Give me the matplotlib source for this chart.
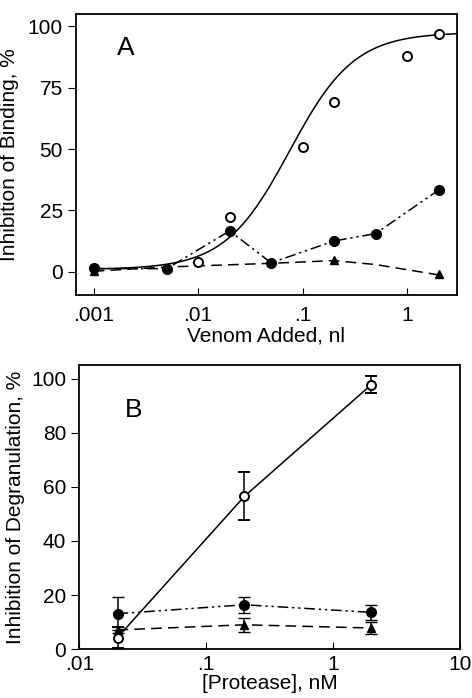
import matplotlib
matplotlib.use("Agg")
import matplotlib.pyplot as plt
import numpy as np

plt.rcParams['font.family'] = ['Liberation Sans', 'DejaVu Sans']

# Panel A: venom binding
a_open_x = [0.01, 0.02, 0.1, 0.2, 1.0, 2.0]
a_open_y = [4.1, 22.4, 50.8, 69.1, 87.8, 96.7]
a_fill_x = [0.001, 0.005, 0.02, 0.05, 0.2, 0.5, 2.0]
a_fill_y = [1.4, 1.3, 16.7, 3.7, 12.6, 15.6, 33.3]
a_tri_x = [0.001, 0.005, 0.05, 0.2, 0.5, 2.0]
a_tri_y = [0.3, 2.0, 3.5, 4.6, 3.0, -1.2]
a_tri_shown = [0.001, 0.2, 2.0]
a_tri_shown_y = [0.3, 5.0, -1.0]
# fitted curve parameters for open circles
fit_bottom, fit_top, fit_ec50, fit_hill = 1.0, 97.5, 0.075, 1.4

# Panel B: degranulation
b_x = [0.02, 0.2, 2.0]
b_open_y = [4.3, 56.5, 97.8]
b_open_err = [4.0, 8.8, 3.0]
b_fill_y = [13.1, 16.4, 13.6]
b_fill_err = [6.0, 2.9, 2.7]
b_tri_y = [7.1, 9.0, 7.8]
b_tri_err = [1.2, 2.5, 2.2]

dashdot = (0, (7, 2.5, 1.5, 2.5, 1.5, 2.5))
dashed = (0, (7, 4))
lw = 1.1
fs = 15

fig = plt.figure(figsize=(4.72, 6.98), dpi=100)
axA = fig.add_axes([0.161, 0.577, 0.807, 0.403])
axB = fig.add_axes([0.168, 0.070, 0.807, 0.407])

# --- A ---
xs = np.logspace(-3, np.log10(3.0), 300)
fit_y = fit_bottom + (fit_top - fit_bottom) / (1 + (fit_ec50 / xs) ** fit_hill)
axA.plot(xs, fit_y, color='black', lw=lw)
axA.plot(a_fill_x, a_fill_y, color='black', lw=lw, linestyle=dashdot)
axA.plot(a_tri_x, a_tri_y, color='black', lw=lw, linestyle=dashed)
axA.plot(a_tri_shown, a_tri_shown_y, 'k^', ms=6, linestyle='')
axA.plot(a_fill_x, a_fill_y, 'ko', ms=7, linestyle='')
axA.plot(a_open_x, a_open_y, 'o', mfc='white', mec='black', mew=1.4, ms=6.5, linestyle='')
axA.set_xscale('log')
axA.set_xlim(10 ** -3.17, 3.0)
axA.set_ylim(-9.5, 105)
axA.set_xticks([0.001, 0.01, 0.1, 1])
axA.set_xticklabels(['.001', '.01', '.1', '1'])
axA.set_yticks([0, 25, 50, 75, 100])
axA.minorticks_off()
axA.tick_params(axis='x', direction='in', length=5, labelsize=fs, pad=8)
axA.tick_params(axis='y', direction='out', length=6, labelsize=fs)
axA.set_xlabel('Venom Added, nl', fontsize=fs, labelpad=1)
axA.set_ylabel('Inhibition of Binding, %', fontsize=fs, labelpad=6)
axA.text(0.108, 0.854, 'A', transform=axA.transAxes, fontsize=19,
         va='baseline')

# --- B ---
axB.errorbar(b_x, b_open_y, yerr=b_open_err, color='black', lw=lw, capsize=4,
             elinewidth=lw, marker='o', mfc='white', mec='black', mew=1.4, ms=6.5)
axB.errorbar(b_x, b_fill_y, yerr=b_fill_err, color='black', lw=lw, capsize=4,
             elinewidth=lw, marker='o', ms=7, linestyle=dashdot)
axB.errorbar(b_x, b_tri_y, yerr=b_tri_err, color='black', lw=lw, capsize=4,
             elinewidth=lw, marker='^', ms=6, linestyle=dashed)
axB.set_xscale('log')
axB.set_xlim(0.01, 10)
axB.set_ylim(0, 105)
axB.set_xticks([0.01, 0.1, 1, 10])
axB.set_xticklabels(['.01', '.1', '1', '10'])
axB.set_yticks([0, 20, 40, 60, 80, 100])
axB.minorticks_off()
axB.tick_params(axis='x', direction='in', length=5, labelsize=fs, pad=4)
axB.tick_params(axis='y', direction='out', length=6, labelsize=fs)
axB.set_xlabel('[Protease], nM', fontsize=fs, labelpad=0)
axB.set_ylabel('Inhibition of Degranulation, %', fontsize=fs, labelpad=4)
axB.text(0.12, 0.818, 'B', transform=axB.transAxes, fontsize=19,
         va='baseline')

for ax in (axA, axB):
    for s in ax.spines.values():
        s.set_linewidth(1.3)

fig.savefig('out.png', dpi=100)
